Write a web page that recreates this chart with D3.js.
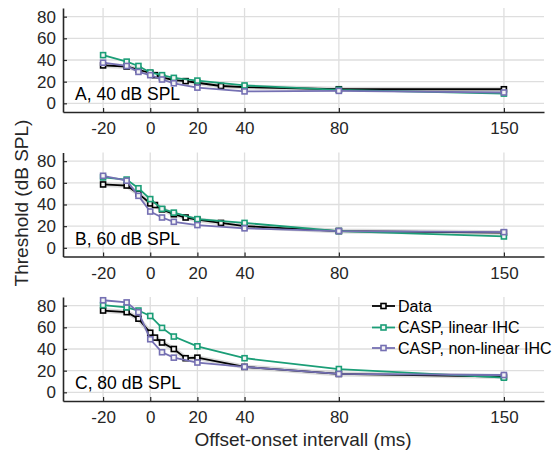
<!DOCTYPE html>
<html>
<head>
<meta charset="utf-8">
<script src="https://cdn.jsdelivr.net/npm/d3@7"></script>
<style>
  body { margin: 0; background: #fff; }
  svg { font-family: "Liberation Sans", Arial, sans-serif; }
</style>
</head>
<body>
<svg id="chart" width="560" height="455"></svg>
<script>
// offset-onset intervals (ms)
let xData = [-20, -10, -5, 0, 2, 5, 10, 15, 20, 30, 40, 80, 150];
let xModel = [-20, -10, -5, 0, 5, 10, 20, 40, 80, 150];

let panelNames = ["A, 40 dB SPL", "B, 60 dB SPL", "C, 80 dB SPL"];

// thresholds (dB SPL), one array per panel
let dataA = [35, 34, 31, 28, 26, 24, 21.5, 20.5, 19, 16, 15, 13, 13];
let dataB = [58.5, 57.5, 50, 41, 39.5, 35.5, 31, 28, 26, 23, 20, 15.5, 14];
let dataC = [75.5, 74, 68, 55, 50.5, 46, 40, 31.5, 32, null, 23.5, 17, 14.5];

let linA = [44.5, 38.5, 34.5, 28.5, 26, 23.5, 21, 16.5, 12.5, 9];
let linB = [65, 63, 55, 45, 36, 32.5, 26.5, 23, 15.5, 10.5];
let linC = [80.5, 78.5, 75.5, 70.5, 59.5, 51.5, 42.5, 31.5, 21.5, 13.5];

let nonA = [37.5, 34.5, 29, 26, 22, 18.5, 14.5, 11, 11.5, 10];
let nonB = [66.5, 62, 48, 33.5, 28, 24, 21, 18, 15.5, 14.5];
let nonC = [85, 83, 74, 49, 37, 32, 27.5, 23.5, 17, 16];

let seriesNames = ["Data", "CASP, linear IHC", "CASP, non-linear IHC"];
let colors = ["#000000", "#1b9e77", "#7570b3"];

let xTicks = [-20, 0, 20, 40, 80, 150];
let yTicks = [0, 20, 40, 60, 80];

let svg = d3.select("#chart");
let left = 63, right = 544;
let panelTops = [8, 152.5, 297];
let ph = 104;
let ms = 5; // marker size

let x = d3.scaleLinear().domain([-37, 167]).range([left, right]);

let panels = [
  {name: panelNames[0], data: dataA, lin: linA, non: nonA},
  {name: panelNames[1], data: dataB, lin: linB, non: nonB},
  {name: panelNames[2], data: dataC, lin: linC, non: nonC}
];

panels.forEach((p, i) => {
  let top = panelTops[i];
  let y = d3.scaleLinear().domain([-8, 88]).range([top + ph, top]);
  let g = svg.append("g");

  // grid
  g.selectAll("line.hg").data(yTicks).join("line")
    .attr("x1", left).attr("x2", right)
    .attr("y1", d => y(d)).attr("y2", d => y(d))
    .style("stroke", "#dedede").style("stroke-width", 1.3);
  g.selectAll("line.vg").data(xTicks).join("line")
    .attr("x1", d => x(d)).attr("x2", d => x(d))
    .attr("y1", top).attr("y2", top + ph)
    .style("stroke", "#dedede").style("stroke-width", 1.3);

  // axes
  let xa = g.append("g").attr("transform", `translate(0,${top + ph})`)
    .call(d3.axisBottom(x).tickValues(xTicks).tickFormat(d => String(d))
      .tickSizeInner(-4).tickSizeOuter(0).tickPadding(10));
  let ya = g.append("g").attr("transform", `translate(${left},0)`)
    .call(d3.axisLeft(y).tickValues(yTicks).tickFormat(d => String(d))
      .tickSizeInner(-4).tickSizeOuter(0).tickPadding(7));
  [xa, ya].forEach(a => {
    a.select(".domain").style("stroke", "#262626").style("stroke-width", 1.6);
    a.selectAll(".tick line").style("stroke", "#262626").style("stroke-width", 1.2);
    a.selectAll(".tick text").style("font-size", "17px").style("fill", "#262626")
      .style("font-family", "Liberation Sans, Arial, sans-serif");
  });

  let line = d3.line().x(d => x(d[0])).y(d => y(d[1]));

  let sets = [
    {pts: xData.map((v, k) => [v, p.data[k]]), c: colors[0]},
    {pts: xModel.map((v, k) => [v, p.lin[k]]), c: colors[1]},
    {pts: xModel.map((v, k) => [v, p.non[k]]), c: colors[2]}
  ];

  // light band under data
  g.append("path").datum(sets[0].pts.filter(d => d[1] != null))
    .attr("d", line)
    .style("fill", "none").style("stroke", "#d2d2d2").style("stroke-width", 5).style("opacity", 0.8);

  sets.forEach(s => {
    let pts = s.pts.filter(d => d[1] != null);
    g.append("path").datum(pts).attr("d", line)
      .style("fill", "none").style("stroke", s.c).style("stroke-width", 1.8);
    g.selectAll(null).data(pts).join("rect")
      .attr("x", d => x(d[0]) - ms / 2).attr("y", d => y(d[1]) - ms / 2)
      .attr("width", ms).attr("height", ms)
      .style("fill", "#f4f4f4").style("stroke", s.c).style("stroke-width", 1.6);
  });

  g.append("text").attr("x", 75).attr("y", top + 92)
    .text(p.name).style("font-size", "17.5px").style("fill", "#000");
});

// legend in panel C
let lg = svg.append("g");
let legY = [306, 327.5, 348];
seriesNames.forEach((n, i) => {
  lg.append("line").attr("x1", 372).attr("x2", 395).attr("y1", legY[i]).attr("y2", legY[i])
    .style("stroke", colors[i]).style("stroke-width", 1.8);
  lg.append("rect").attr("x", 383.5 - ms / 2).attr("y", legY[i] - ms / 2).attr("width", ms).attr("height", ms)
    .style("fill", "#f4f4f4").style("stroke", colors[i]).style("stroke-width", 1.6);
  lg.append("text").attr("x", 398).attr("y", legY[i]).attr("dy", "0.35em")
    .text(n).style("font-size", "16px").style("fill", "#000");
});

svg.append("text").attr("transform", "translate(28,203) rotate(-90)")
  .attr("text-anchor", "middle").text("Threshold (dB SPL)")
  .style("font-size", "19px").style("fill", "#262626");

svg.append("text").attr("x", 303).attr("y", 446)
  .attr("text-anchor", "middle").text("Offset-onset intervall (ms)")
  .style("font-size", "19px").style("fill", "#262626");
</script>
</body>
</html>
